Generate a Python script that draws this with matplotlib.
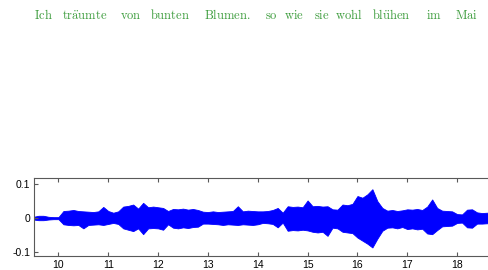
import numpy as np
import matplotlib
matplotlib.use("Agg")
import matplotlib.pyplot as plt
import matplotlib.transforms as mtransforms

# lyric words and their onset times (s)
words = [r"Ich", r"tr\ddot{a}umte", r"von", r"bunten", r"Blumen.", r"so",
         r"wie", r"sie", r"wohl", r"bl\ddot{u}hen", r"im", r"Mai"]
word_times = [9.50, 10.08, 11.24, 11.83, 12.92, 14.14,
              14.53, 15.12, 15.54, 16.29, 17.37, 17.95]

# waveform envelope
t = [9.5, 9.6, 9.7, 9.8, 9.9, 10.0, 10.1, 10.2, 10.3, 10.4, 10.5, 10.6, 10.7,
     10.8, 10.9, 11.0, 11.1, 11.2, 11.3, 11.4, 11.5, 11.6, 11.7, 11.8, 11.9,
     12.0, 12.1, 12.2, 12.3, 12.4, 12.5, 12.6, 12.7, 12.8, 12.9, 13.0, 13.1,
     13.2, 13.3, 13.4, 13.5, 13.6, 13.7, 13.8, 13.9, 14.0, 14.1, 14.2, 14.3,
     14.4, 14.5, 14.6, 14.7, 14.8, 14.9, 15.0, 15.1, 15.2, 15.3, 15.4, 15.5,
     15.6, 15.7, 15.8, 15.9, 16.0, 16.1, 16.2, 16.3, 16.4, 16.5, 16.6, 16.7,
     16.8, 16.9, 17.0, 17.1, 17.2, 17.3, 17.4, 17.5, 17.6, 17.7, 17.8, 17.9,
     18.0, 18.1, 18.2, 18.3, 18.4, 18.5, 18.6, 18.7]
upper = [0.004, 0.007, 0.007, 0.004, 0.003, 0.003, 0.021, 0.022, 0.024, 0.021,
         0.020, 0.019, 0.018, 0.020, 0.033, 0.021, 0.016, 0.020, 0.034, 0.036,
         0.040, 0.028, 0.045, 0.032, 0.034, 0.032, 0.030, 0.021, 0.027, 0.026,
         0.028, 0.025, 0.027, 0.024, 0.019, 0.018, 0.020, 0.018, 0.019, 0.020,
         0.021, 0.035, 0.020, 0.022, 0.021, 0.020, 0.020, 0.021, 0.024, 0.030,
         0.016, 0.035, 0.033, 0.034, 0.032, 0.052, 0.035, 0.036, 0.034, 0.035,
         0.026, 0.025, 0.040, 0.038, 0.042, 0.065, 0.060, 0.070, 0.085, 0.050,
         0.030, 0.022, 0.024, 0.021, 0.023, 0.026, 0.025, 0.027, 0.024, 0.034,
         0.055, 0.030, 0.022, 0.021, 0.020, 0.012, 0.011, 0.025, 0.026, 0.017,
         0.015, 0.016, 0.015]
lower = [-0.004, -0.006, -0.006, -0.004, -0.003, -0.003, -0.018, -0.020, -0.021,
         -0.020, -0.030, -0.020, -0.019, -0.018, -0.020, -0.017, -0.014, -0.017,
         -0.030, -0.034, -0.038, -0.030, -0.047, -0.030, -0.029, -0.030, -0.034,
         -0.018, -0.028, -0.030, -0.027, -0.029, -0.026, -0.025, -0.016, -0.016,
         -0.017, -0.018, -0.020, -0.018, -0.019, -0.020, -0.018, -0.019, -0.020,
         -0.018, -0.014, -0.015, -0.017, -0.027, -0.013, -0.037, -0.035, -0.036,
         -0.034, -0.036, -0.040, -0.042, -0.040, -0.052, -0.028, -0.030, -0.040,
         -0.042, -0.044, -0.057, -0.066, -0.075, -0.086, -0.060, -0.037, -0.028,
         -0.027, -0.030, -0.026, -0.032, -0.030, -0.033, -0.031, -0.045, -0.047,
         -0.035, -0.024, -0.023, -0.022, -0.014, -0.013, -0.027, -0.028, -0.016,
         -0.016, -0.015, -0.015]

xticks = [10, 11, 12, 13, 14, 15, 16, 17, 18]
yticks = [-0.1, 0, 0.1]
ytick_labels = ["-0.1", "0", "0.1"]

plt.rcParams["mathtext.fontset"] = "cm"

fig = plt.figure(figsize=(4.89, 2.70), dpi=100)
ax = fig.add_axes([0.0701, 0.0507, 0.9299, 0.2889])

ax.fill_between(t, lower, upper, color="#0000ff", linewidth=0.6, edgecolor="#0000ff")

ax.set_xlim(9.515, 18.64)
ax.set_ylim(-0.112, 0.117)
ax.set_xticks(xticks)
ax.set_xticklabels([str(v) for v in xticks])
ax.set_yticks(yticks)
ax.set_yticklabels(ytick_labels)
ax.tick_params(direction="in", length=3, width=0.8, color="0.35",
               top=True, right=False, labelsize=7.5, pad=3)
for lab in ax.get_xticklabels() + ax.get_yticklabels():
    lab.set_family("Liberation Sans")
for side in ["left", "top", "bottom"]:
    ax.spines[side].set_color("0.35")
    ax.spines[side].set_linewidth(0.8)
ax.spines["right"].set_visible(False)

# lyrics above the waveform, aligned to the time axis
trans = mtransforms.blended_transform_factory(ax.transData, fig.transFigure)
for w, wt in zip(words, word_times):
    fig.text(wt, 0.931, r"$\mathrm{" + w + "}$", transform=trans,
             ha="left", va="baseline", fontsize=9, color="#3c9c3c")

fig.savefig("out.png", dpi=100)
